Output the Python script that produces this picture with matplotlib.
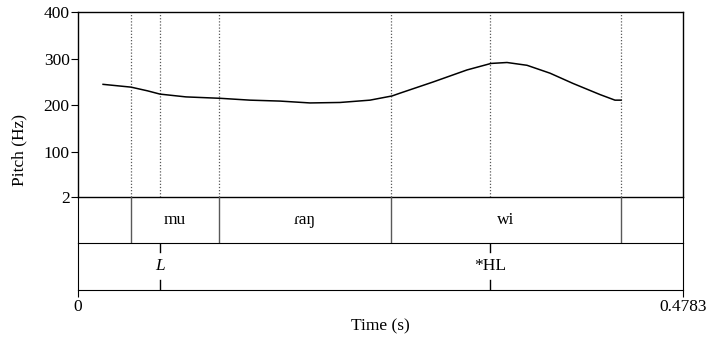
import numpy as np
import matplotlib
matplotlib.use("Agg")
import matplotlib.pyplot as plt

plt.rcParams['font.family'] = ['Liberation Serif', 'DejaVu Serif']

# pitch track (s, Hz)
t_pitch = [0.0198, 0.0419, 0.0550, 0.0648, 0.0853, 0.1122, 0.1359, 0.1596, 0.1833,
           0.2070, 0.2307, 0.2481, 0.2544, 0.2805, 0.3074, 0.3264, 0.3390, 0.3548,
           0.3730, 0.3911, 0.4125, 0.4243, 0.4291]
f0 = [245, 239, 231, 224, 218, 215, 211, 209, 205,
      206, 211, 220, 226, 250, 276, 290, 292, 286,
      269, 247, 223, 211, 211]

t_end = 0.4783

# tier 1: syllables (interval tier)
syl_bounds = [0.0419, 0.1115, 0.2474, 0.4291]
syl_labels = ["", "mu", "ɾaŋ", "wi", ""]

# tier 2: tones (point tier)
tone_times = [0.0648, 0.3257]
tone_labels = ["L", "*HL"]

FS = 12.5
W, H = 707, 338
fig = plt.figure(figsize=(W / 100, H / 100), dpi=100)
L, R = 78 / W, 683.3 / W
def ax_at(top, bot):
    a = fig.add_axes([L, 1 - bot / H, R - L, (bot - top) / H])
    a.patch.set_visible(False)
    return a

ax = ax_at(12.3, 197.3)
ax1 = ax_at(197.3, 243)
ax2 = ax_at(243, 289.5)

all_bounds = sorted(syl_bounds + tone_times)
for b in all_bounds:
    ax.axvline(b, color="0.35", ls=(0, (1, 1.5)), lw=0.9)
ax.plot(t_pitch, f0, color="black", lw=1.1)
ax.set_xlim(0, t_end)
ax.set_ylim(2, 400)
ax.set_yticks([2, 100, 200, 300, 400])
ax.set_xticks([])
ax.tick_params(axis="y", direction="out", length=5, labelsize=FS, width=0.8, pad=1)
for s in ax.spines.values():
    s.set_linewidth(1.0)
fig.text(19 / W, 1 - 150 / H, "Pitch (Hz)", rotation=90, ha="center", va="center",
         fontsize=FS)

# syllable tier
edges = [0] + syl_bounds + [t_end]
for b in syl_bounds:
    ax1.axvline(b, color="0.35", lw=1.0)
for i, lab in enumerate(syl_labels):
    if lab:
        ax1.text((edges[i] + edges[i + 1]) / 2, 0.5, lab, ha="center", va="center",
                 fontsize=FS, transform=ax1.get_xaxis_transform())
ax1.set_xlim(0, t_end)
ax1.set_ylim(0, 1)
ax1.set_xticks([]); ax1.set_yticks([])
ax1.spines["top"].set_visible(False)

# tone tier
for t, lab in zip(tone_times, tone_labels):
    ax2.plot([t, t], [0.8, 1.0], color="black", lw=1.0)
    ax2.plot([t, t], [0.0, 0.2], color="black", lw=1.0)
    ax2.text(t, 0.5, lab, ha="center", va="center", fontsize=FS,
             style="italic" if lab == "L" else "normal")
ax2.set_xlim(0, t_end)
ax2.set_ylim(0, 1)
ax2.set_yticks([])
ax2.spines["top"].set_visible(False)
ax2.set_xticks([0, t_end])
ax2.set_xticklabels(["0", "0.4783"])
ax2.tick_params(axis="x", direction="out", length=5, labelsize=FS, width=0.8, pad=2)
fig.text((L + R) / 2, 1 - 326 / H, "Time (s)", ha="center", va="center", fontsize=FS)

fig.savefig("out.png", dpi=100)
